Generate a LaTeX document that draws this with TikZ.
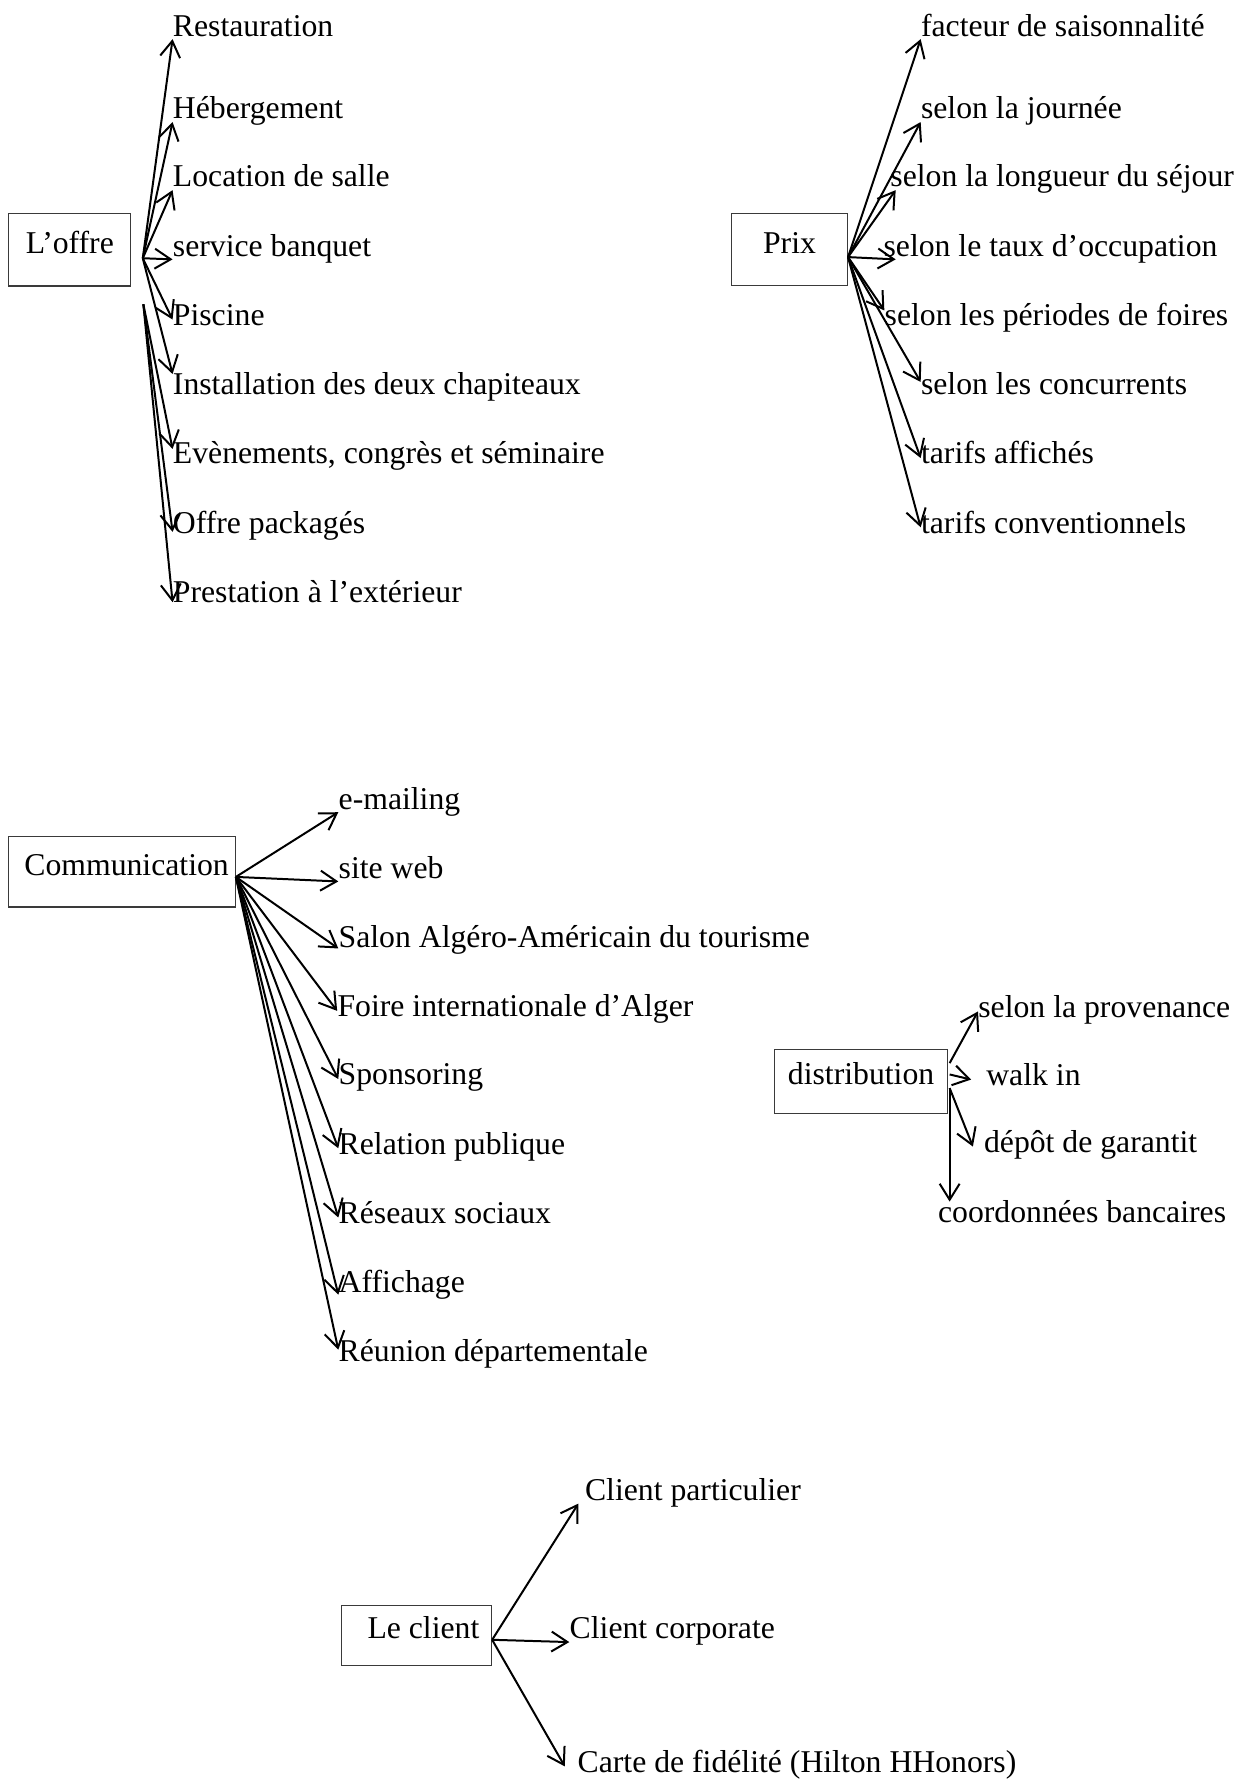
\documentclass[tikz,border=0pt]{standalone}
\usepackage{fontspec}
\setmainfont{Liberation Serif}
\usepackage{xcolor}
\usetikzlibrary{arrows.meta}
\definecolor{FrameGray}{HTML}{3A3A3A}

\begin{document}
\begin{tikzpicture}[font=\fontsize{15.9}{19}\selectfont,
    >={Straight Barb[length=8pt,width=10pt]},
    card/.style={draw=FrameGray,line width=0.6pt,inner sep=0pt,text height=1.6ex,text depth=0.8ex},
    leaf/.style={anchor=west,inner sep=0pt,text height=1.6ex,text depth=0.3ex,yshift=-0.09cm},
    link/.style={->,line width=1pt}]
    \useasboundingbox (0,0) rectangle (22,31.36);

    % L'offre and its services.
    \node[card,minimum width=2.15cm,minimum height=1.28cm] (offre) at (1.23,26.96) {L’offre};
    \coordinate (ofa) at ([xshift=0.2cm,yshift=-0.15cm]offre.east);
    \coordinate (ofb) at ([xshift=0.21cm,yshift=-0.96cm]offre.east);
    \node[leaf] (rest) at (3.04,30.92) {Restauration};
    \node[leaf] (heb) at (3.04,29.46) {Hébergement};
    \node[leaf] (loc) at (3.04,28.26) {Location de salle};
    \node[leaf] (banq) at (3.04,27.04) {service banquet};
    \node[leaf] (pisc) at (3.04,25.82) {Piscine};
    \node[leaf] (inst) at (3.04,24.60) {Installation des deux chapiteaux};
    \node[leaf] (even) at (3.04,23.38) {Evènements, congrès et séminaire};
    \node[leaf] (pack) at (3.04,22.16) {Offre packagés};
    \node[leaf] (prest) at (3.04,20.94) {Prestation à l’extérieur};
    \draw[link] (ofa) -- (rest.south west);
    \draw[link] (ofa) -- (heb.south west);
    \draw[link] (ofa) -- (loc.south west);
    \draw[link] (ofa) -- (banq.south west);
    \draw[link] (ofa) -- (pisc.west);
    \draw[link] (ofa) -- ([yshift=0.1cm]inst.north west);
    \draw[link] (ofb) -- (even.north west);
    \draw[link] (ofb) -- ([yshift=-0.08cm]pack.west);
    \draw[link] (ofb) -- ([yshift=-0.1cm]prest.west);

    % Prix.
    \node[card,minimum width=2.04cm,minimum height=1.27cm] (prix) at (13.91,26.96) {Prix};
    \coordinate (pxo) at ([yshift=-0.13cm]prix.east);
    \node[leaf] (fact) at (16.22,30.92) {facteur de saisonnalité};
    \node[leaf] (jour) at (16.22,29.46) {selon la journée};
    \node[leaf] (long) at (15.68,28.26) {selon la longueur du séjour};
    \node[leaf] (taux) at (15.56,27.04) {selon le taux d’occupation};
    \node[leaf] (peri) at (15.58,25.82) {selon les périodes de foires};
    \node[leaf] (conc) at (16.22,24.60) {selon les concurrents};
    \node[leaf] (affi) at (16.22,23.38) {tarifs affichés};
    \node[leaf] (conv) at (16.22,22.16) {tarifs conventionnels};
    \draw[link] (pxo) -- (fact.south west);
    \draw[link] (pxo) -- (jour.south west);
    \draw[link] (pxo) -- ([xshift=0.1cm]long.south west);
    \draw[link] (pxo) -- ([xshift=0.22cm]taux.south west);
    \draw[link] (pxo) -- (peri.north west);
    \draw[link] (pxo) -- ([yshift=0.12cm]conc.west);
    \draw[link] (pxo) -- (affi.west);
    \draw[link] (pxo) -- (conv.west);

    % Communication.
    \node[card,minimum width=3.99cm,minimum height=1.24cm] (comm) at (2.15,16.00) {\hspace{0.16cm}Communication};
    \coordinate (cmo) at ([yshift=-0.09cm]comm.east);
    \node[leaf] (mail) at (5.96,17.30) {e-mailing};
    \node[leaf] (web) at (5.96,16.08) {site web};
    \node[leaf] (salon) at (5.96,14.86) {Salon Algéro-Américain du tourisme};
    \node[leaf] (foire) at (5.94,13.64) {Foire internationale d’Alger};
    \node[leaf] (spon) at (5.96,12.44) {Sponsoring};
    \node[leaf] (relp) at (5.96,11.22) {Relation publique};
    \node[leaf] (reso) at (5.96,10.00) {Réseaux sociaux};
    \node[leaf] (affich) at (5.96,8.78) {Affichage};
    \node[leaf] (reun) at (5.96,7.56) {Réunion départementale};
    \draw[link] (cmo) -- (mail.south west);
    \draw[link] (cmo) -- ([yshift=-0.16cm]web.west);
    \draw[link] (cmo) -- ([yshift=-0.12cm]salon.west);
    \draw[link] (cmo) -- (foire.west);
    \draw[link] (cmo) -- (spon.west);
    \draw[link] (cmo) -- (relp.west);
    \draw[link] (cmo) -- (reso.west);
    \draw[link] (cmo) -- ([yshift=-0.14cm]affich.west);
    \draw[link] (cmo) -- ([yshift=0.11cm]reun.west);

    % Distribution.
    \node[card,minimum width=3.04cm,minimum height=1.13cm] (dist) at (15.17,12.31) {distribution};
    \coordinate (dsa) at ([xshift=0.03cm,yshift=0.32cm]dist.east);
    \coordinate (dsb) at ([xshift=0.03cm,yshift=0.12cm]dist.east);
    \coordinate (dsc) at ([xshift=0.03cm,yshift=-0.12cm]dist.east);
    \node[leaf] (prov) at (17.23,13.63) {selon la provenance};
    \node[leaf] (walk) at (17.37,12.43) {walk in};
    \node[leaf] (depot) at (17.33,11.25) {dépôt de garantit};
    \node[leaf] (coord) at (16.52,10.02) {coordonnées bancaires};
    \draw[link] (dsa) -- (prov.west);
    \draw[link] (dsb) -- ([xshift=-0.26cm]walk.west);
    \draw[link] (dsc) -- ([xshift=-0.19cm]depot.west);
    \draw[link] (dsc) -- ([yshift=0.1cm]dsc |- coord.north);

    % Le client.
    \node[card,minimum width=2.64cm,minimum height=1.06cm] (client) at (7.34,2.55) {\hspace{0.24cm}Le client};
    \coordinate (clo) at ([yshift=-0.08cm]client.east);
    \node[leaf] (part) at (10.30,5.12) {Client particulier};
    \node[leaf] (corp) at (10.03,2.68) {Client corporate};
    \node[leaf] (carte) at (10.17,0.33) {Carte de fidélité (Hilton HHonors)};
    \draw[link] (clo) -- ([xshift=-0.11cm]part.south west);
    \draw[link] (clo) -- (corp.south west);
    \draw[link] (clo) -- ([xshift=-0.22cm]carte.west);
\end{tikzpicture}
\end{document}
